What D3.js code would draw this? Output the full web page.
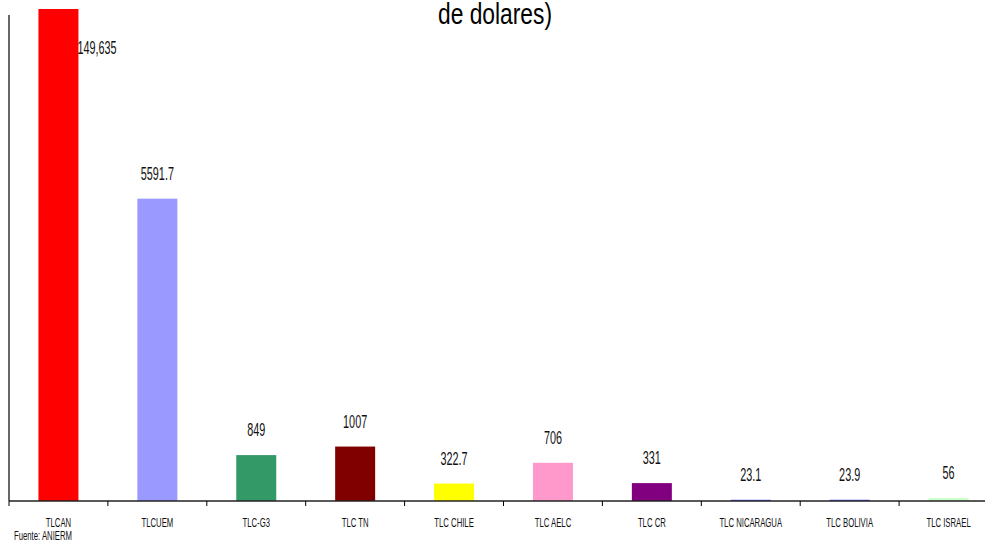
<!DOCTYPE html>
<html>
<head>
<meta charset="utf-8">
<script src="https://cdn.jsdelivr.net/npm/d3@7"></script>
<style>
  body { margin: 0; background: #fff; }
  svg { display: block; font-family: "Liberation Sans", Arial, sans-serif; }
</style>
</head>
<body>
<div id="chart"></div>
<script>
var categories = ["TLCAN", "TLCUEM", "TLC-G3", "TLC TN", "TLC CHILE", "TLC AELC", "TLC CR", "TLC NICARAGUA", "TLC BOLIVIA", "TLC ISRAEL"];
var values = [149635, 5591.7, 849, 1007, 322.7, 706, 331, 23.1, 23.9, 56];
var valueLabels = ["149,635", "5591.7", "849", "1007", "322.7", "706", "331", "23.1", "23.9", "56"];
var colors = ["#ff0000", "#9999ff", "#339966", "#800000", "#ffff00", "#ff99cc", "#800080", "#6666ff", "#6666ff", "#ccffcc"];

var width = 985, height = 543;
var plotLeft = 9, plotBase = 501, plotTop = 9;
var band = 98.9;

var svg = d3.select("#chart").append("svg")
  .attr("width", width)
  .attr("height", height);

var x = d3.scaleBand()
  .domain(categories)
  .range([plotLeft, plotLeft + band * categories.length])
  .paddingInner(0)
  .paddingOuter(0);

var y = d3.scaleLinear()
  .domain([0, 9100])
  .range([plotBase, plotTop])
  .clamp(true);

var barW = 40;

// bars
svg.selectAll(".bar")
  .data(values)
  .enter()
  .append("rect")
  .attr("class", "bar")
  .attr("x", function(d, i) { return x(categories[i]) + x.bandwidth() / 2 - barW / 2; })
  .attr("y", function(d) { return y(d); })
  .attr("width", barW)
  .attr("height", function(d) { return plotBase - y(d); })
  .style("fill", function(d, i) { return colors[i]; });

// value labels
svg.selectAll(".vlabel")
  .data(values)
  .enter()
  .append("text")
  .attr("class", "vlabel")
  .attr("transform", function(d, i) {
    var cx = x(categories[i]) + x.bandwidth() / 2;
    if (i == 0) {
      return "translate(" + (cx + barW / 2 - 1) + "," + 54 + ") scale(0.62,1)";
    }
    return "translate(" + cx + "," + (y(d) - 19) + ") scale(0.62,1)";
  })
  .attr("text-anchor", function(d, i) { return i == 0 ? "start" : "middle"; })
  .style("font-size", "17.5px")
  .style("fill", "#111")
  .text(function(d, i) { return valueLabels[i]; });

// axes
svg.append("line")
  .attr("x1", plotLeft).attr("x2", plotLeft)
  .attr("y1", 15).attr("y2", plotBase)
  .style("stroke", "#000").style("stroke-width", 1.2);

svg.append("line")
  .attr("x1", plotLeft).attr("x2", width)
  .attr("y1", plotBase).attr("y2", plotBase)
  .style("stroke", "#222").style("stroke-width", 1.4);

svg.selectAll(".tick")
  .data(categories)
  .enter()
  .append("line")
  .attr("class", "tick")
  .attr("x1", function(d) { return x(d); })
  .attr("x2", function(d) { return x(d); })
  .attr("y1", plotBase).attr("y2", plotBase + 5)
  .style("stroke", "#000").style("stroke-width", 1);

svg.selectAll(".clabel")
  .data(categories)
  .enter()
  .append("text")
  .attr("class", "clabel")
  .attr("transform", function(d) {
    return "translate(" + (x(d) + x.bandwidth() / 2) + "," + 527 + ") scale(0.62,1)";
  })
  .attr("text-anchor", "middle")
  .style("font-size", "12.5px")
  .style("fill", "#111")
  .text(function(d) { return d; });

// title (second line visible)
svg.append("text")
  .attr("transform", "translate(495,24) scale(0.76,1)")
  .attr("text-anchor", "middle")
  .style("font-size", "30px")
  .style("fill", "#000")
  .text("de dolares)");

svg.append("text")
  .attr("transform", "translate(14,540) scale(0.62,1)")
  .style("font-size", "12.5px")
  .style("fill", "#111")
  .text("Fuente: ANIERM");
</script>
</body>
</html>
